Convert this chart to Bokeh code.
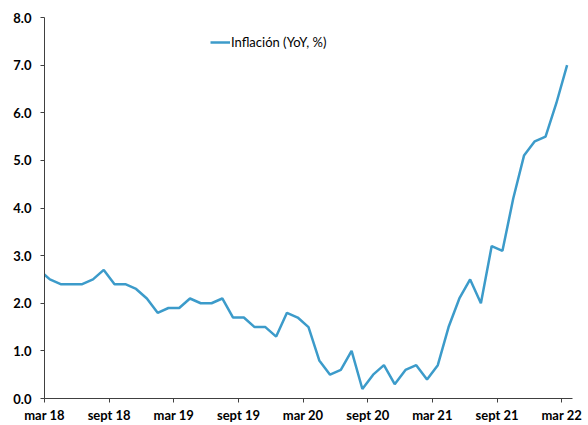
import pandas as pd
from bokeh.plotting import figure
from bokeh.models import (FixedTicker, PrintfTickFormatter, Range1d, Legend,
                          LegendItem, ColumnDataSource)
from bokeh.embed import file_html
from bokeh.resources import INLINE

# --- data -------------------------------------------------------------
start_month = "2018-02"
end_month = "2022-03"
inflation = [2.7, 2.5, 2.4, 2.4, 2.4, 2.5, 2.7, 2.4, 2.4, 2.3, 2.1,
             1.8, 1.9, 1.9, 2.1, 2.0, 2.0, 2.1, 1.7, 1.7, 1.5, 1.5, 1.3,
             1.8, 1.7, 1.5, 0.8, 0.5, 0.6, 1.0, 0.2, 0.5, 0.7, 0.3, 0.6,
             0.7, 0.4, 0.7, 1.5, 2.1, 2.5, 2.0, 3.2, 3.1, 4.2, 5.1, 5.4,
             5.5, 6.2, 7.0]
tick_labels = ["mar 18", "sept 18", "mar 19", "sept 19", "mar 20",
               "sept 20", "mar 21", "sept 21", "mar 22"]
y_ticks = [0, 1, 2, 3, 4, 5, 6, 7, 8]
series_name = "Inflación (YoY, %)"

# --- positions: months since Mar 2018, points at mid-month -------------
months = pd.period_range(start_month, end_month, freq="M")
x = [(p.year - 2018) * 12 + (p.month - 3) + 0.5 for p in months]
tick_pos = [i * 6 for i in range(len(tick_labels))]

src = ColumnDataSource(dict(x=x, y=inflation))

FONT = "Lato"
AXIS_COLOR = "#404040"

p = figure(width=588, height=425, output_backend="svg", toolbar_location=None,
           x_range=Range1d(0, 49), y_range=Range1d(0, 8),
           min_border_left=44, min_border_right=16, min_border_top=17,
           min_border_bottom=24)
p.outline_line_color = None
p.xgrid.visible = False
p.ygrid.visible = False
p.background_fill_color = "white"
p.border_fill_color = "white"

r = p.line("x", "y", source=src, line_color="#3C9BCA", line_width=2.5)

# axes
p.xaxis.ticker = FixedTicker(ticks=tick_pos)
p.xaxis.major_label_overrides = {t: l for t, l in zip(tick_pos, tick_labels)}
p.yaxis.ticker = FixedTicker(ticks=y_ticks)
p.yaxis.formatter = PrintfTickFormatter(format="%.1f")
for ax in (p.xaxis, p.yaxis):
    ax.axis_line_color = AXIS_COLOR
    ax.major_tick_line_color = AXIS_COLOR
    ax.minor_tick_line_color = None
    ax.major_tick_out = 4
    ax.major_tick_in = 0
    ax.major_label_text_font = FONT
    ax.major_label_text_font_style = "bold"
    ax.major_label_text_font_size = "13px"
    ax.major_label_text_color = "black"
p.xaxis.major_label_standoff = 4
p.xaxis.major_label_text_line_height = 0.6
p.yaxis.major_label_standoff = 9

legend = Legend(items=[LegendItem(label=series_name, renderers=[r])],
                location=(166, 348), border_line_color=None,
                background_fill_alpha=0, padding=0, margin=0,
                glyph_width=20, glyph_height=14, label_height=14,
                label_standoff=1,
                label_text_font=FONT, label_text_font_size="13px",
                label_text_color="black")
p.add_layout(legend)

open("out.html", "w").write(file_html(p, INLINE))
